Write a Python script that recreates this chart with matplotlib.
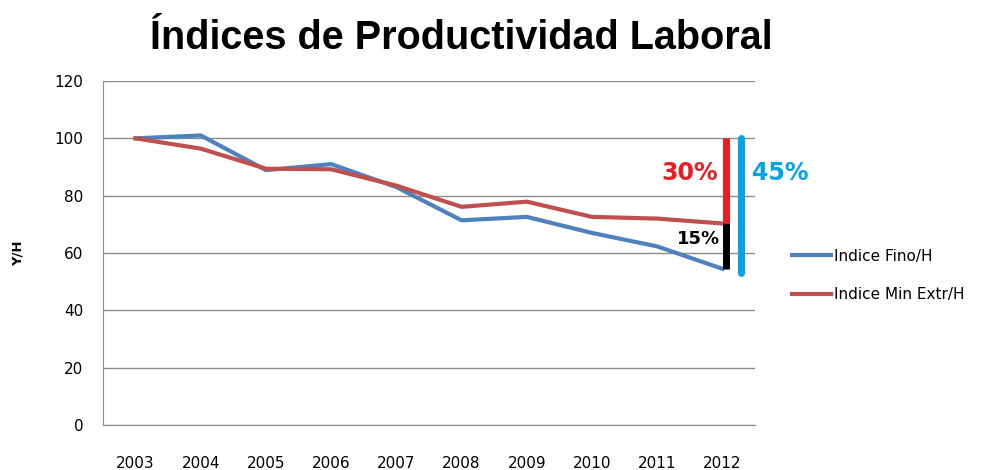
import matplotlib.pyplot as plt

# Data
years = ["2003", "2004", "2005", "2006", "2007", "2008", "2009", "2010", "2011", "2012"]
fino_h = [100, 101, 88.9, 91.0, 83.0, 71.4, 72.6, 67.0, 62.3, 54.5]
min_extr_h = [100, 96.4, 89.4, 89.2, 83.5, 76.1, 77.9, 72.6, 72.0, 70.3]
yticks = [0, 20, 40, 60, 80, 100, 120]

blue = "#4f81bd"
red = "#c0504d"

fig = plt.figure(figsize=(9.9, 4.7), dpi=100)
ax = fig.add_axes([0.104, 0.0957, 0.6586, 0.732])

x = range(len(years))
ax.plot(x, fino_h, color=blue, lw=3, label="Indice Fino/H", zorder=3)
ax.plot(x, min_extr_h, color=red, lw=3, label="Indice Min Extr/H", zorder=3)

ax.set_xlim(-0.5, len(years) - 0.5)
ax.set_ylim(0, 120)
ax.set_yticks(yticks)
ax.set_xticks(list(x))
ax.set_xticklabels(years)
ax.grid(axis="y", color="#8c8c8c", lw=1)
ax.set_axisbelow(True)
for s in ["top", "right"]:
    ax.spines[s].set_visible(False)
ax.spines["left"].set_color("#8c8c8c")
ax.spines["bottom"].set_color("#8c8c8c")
ax.tick_params(axis="both", length=0, labelsize=11, colors="black")
ax.tick_params(axis="x", pad=22)
ax.tick_params(axis="y", pad=14)
ax.set_ylabel("Y/H", fontsize=9.5, fontweight="bold")
ax.yaxis.set_label_coords(-0.12, 0.5)

# gap annotation bars at the last year
last = len(years) - 1
ax.plot([last + 0.05] * 2, [100, min_extr_h[-1]], color="#ed1c24", lw=5,
        solid_capstyle="butt", clip_on=False, zorder=4)
ax.plot([last + 0.05] * 2, [min_extr_h[-1], fino_h[-1]], color="black", lw=5,
        solid_capstyle="butt", clip_on=False, zorder=4)
ax.plot([last + 0.28] * 2, [100, fino_h[-1] - 1.5], color="#00a2e8", lw=5,
        solid_capstyle="round", clip_on=False, zorder=4)

ax.text(last - 0.07, 88, "30%", color="#ed1c24", fontsize=17, fontweight="bold",
        ha="right", va="center")
ax.text(last + 0.45, 88, "45%", color="#00a2e8", fontsize=17, fontweight="bold",
        ha="left", va="center")
ax.text(last - 0.03, 65, "15%", color="black", fontsize=13, fontweight="bold",
        ha="right", va="center")

ax.legend(loc="center left", bbox_to_anchor=(1.035, 0.435), frameon=False,
          fontsize=11, handlelength=2.6, handletextpad=0.2, labelspacing=1.55)

fig.suptitle("Índices de Productividad Laboral", x=0.466, y=0.96,
             fontsize=28.5, fontweight="bold", family="Liberation Sans")

fig.savefig("out.png", dpi=100)
